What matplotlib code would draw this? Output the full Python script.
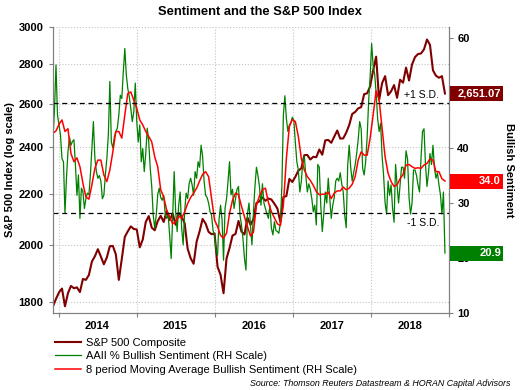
import numpy as np
import pandas as pd
import matplotlib
matplotlib.use('Agg')
import matplotlib.pyplot as plt
import matplotlib.dates as mdates
from matplotlib.patches import Rectangle
from matplotlib.ticker import FixedLocator, FixedFormatter, FormatStrFormatter, NullFormatter, NullLocator
from matplotlib.transforms import blended_transform_factory

plt.rcParams['font.family'] = ['Liberation Sans', 'DejaVu Sans']

# ---- data ----
# S&P 500 and the moving average: every 2 weeks; AAII bullish: weekly
dates = pd.date_range('2013-12-05', periods=132, freq='14D')
dates_w = pd.date_range('2013-12-05', periods=263, freq='7D')

spx = [1785, 1810, 1832, 1845, 1785, 1829, 1854, 1846, 1849, 1833,
       1878, 1875, 1892, 1940, 1959, 1985, 1958, 1930, 1955, 1996,
       1997, 1966, 1875, 1950, 2031, 2052, 2071, 2061, 2059, 1992,
       2021, 2088, 2111, 2066, 2056, 2091, 2112, 2088, 2131, 2096,
       2121, 2077, 2124, 2109, 2083, 1987, 1952, 1932, 2013, 2052,
       2100, 2082, 2050, 2041, 2044, 1921, 1893, 1829, 1951, 1989,
       2036, 2042, 2092, 2051, 2040, 2105, 2077, 2099, 2163, 2170,
       2185, 2172, 2181, 2177, 2160, 2141, 2088, 2187, 2191, 2262,
       2249, 2271, 2297, 2307, 2364, 2365, 2345, 2357, 2355, 2389,
       2366, 2430, 2432, 2419, 2447, 2475, 2438, 2439, 2465, 2500,
       2552, 2562, 2579, 2585, 2648, 2652, 2687, 2767, 2839, 2620,
       2703, 2738, 2643, 2662, 2693, 2630, 2720, 2705, 2782, 2716,
       2798, 2837, 2853, 2856, 2878, 2931, 2902, 2768, 2740, 2730,
       2738, 2651.07]

bullish = [41.8, 47.0, 55.1, 46.0, 44.2, 42.4, 38.1, 37.5, 28.1, 34.5,
           39.3, 42.0, 40.5, 41.2, 41.5, 36.9, 31.4, 35.1, 27.2, 32.7,
           32.1, 29.0, 30.8, 31.8, 31.5, 35.1, 39.9, 44.8, 38.1, 35.7,
           34.5, 35.0, 34.0, 30.8, 31.4, 35.1, 38.1, 42.4, 52.1, 41.1,
           40.0, 42.0, 43.0, 43.6, 46.0, 49.6, 49.0, 53.9, 58.1, 53.3,
           50.8, 49.3, 47.2, 44.8, 46.6, 51.8, 44.8, 41.1, 44.2, 37.5,
           39.9, 35.7, 39.0, 43.6, 41.1, 36.3, 33.0, 27.8, 25.4, 27.8,
           31.5, 32.7, 31.0, 30.5, 31.4, 28.0, 27.2, 27.8, 24.0, 19.9,
           27.5, 35.7, 28.4, 24.8, 29.6, 32.0, 25.4, 22.4, 28.4, 31.8,
           30.8, 33.5, 34.5, 33.3, 31.4, 35.7, 34.5, 37.5, 36.5, 40.5,
           38.5, 34.0, 31.4, 31.0, 30.0, 28.4, 27.8, 25.0, 24.0, 21.5,
           20.5, 27.0, 29.6, 27.0, 19.6, 29.0, 30.8, 33.9, 37.5, 31.5,
           32.5, 29.0, 30.8, 32.5, 33.0, 27.8, 26.0, 23.5, 19.9, 17.8,
           28.0, 30.0, 26.0, 22.4, 28.4, 33.0, 36.5, 35.0, 33.0, 29.6,
           33.5, 30.0, 29.0, 28.0, 27.2, 29.6, 25.4, 24.2, 26.6, 25.0,
           24.8, 24.5, 26.5, 33.0, 46.0, 49.5, 45.4, 43.0, 44.2, 44.6,
           45.6, 45.0, 41.0, 37.5, 36.0, 32.0, 33.9, 37.5, 38.5, 35.0,
           32.0, 33.5, 32.5, 30.8, 28.4, 29.6, 26.0, 37.0, 36.5, 29.5,
           24.8, 28.0, 32.0, 30.0, 34.5, 30.8, 27.2, 29.6, 31.0, 34.0,
           34.5, 34.0, 35.5, 33.5, 32.0, 27.8, 25.5, 36.9, 40.5, 36.5,
           34.0, 35.5, 37.0, 39.0, 41.5, 44.8, 43.5, 36.3, 35.1, 37.5,
           42.0, 48.5, 53.0, 59.0, 55.0, 53.5, 50.0, 45.4, 43.0, 44.5,
           38.5, 35.0, 30.0, 28.0, 34.0, 31.4, 33.3, 29.0, 26.5, 37.0,
           33.3, 30.0, 33.3, 36.5, 36.5, 34.5, 39.5, 38.0, 31.0, 28.0,
           30.0, 36.0, 36.0, 35.0, 33.3, 32.0, 38.1, 43.0, 43.5, 37.0,
           33.0, 35.5, 39.0, 37.0, 40.5, 36.3, 34.5, 35.5, 33.3, 31.5,
           28.0, 32.0, 20.9]

bullish_ma = [42.7, 43.1, 44.3, 45.1, 43.0, 43.5, 39.0, 37.5, 38.2, 36.6,
              33.6, 31.1, 30.7, 33.3, 36.3, 37.8, 37.8, 35.1, 33.9, 36.0,
              39.3, 43.0, 43.0, 41.8, 46.0, 49.9, 50.2, 48.7, 47.2, 45.1,
              44.2, 43.0, 42.1, 41.1, 38.4, 36.6, 32.4, 31.1, 28.7, 27.5,
              26.2, 26.6, 27.6, 27.2, 28.4, 29.9, 31.0, 31.8, 32.7, 34.0,
              35.2, 35.7, 34.8, 30.8, 26.9, 25.7, 24.1, 23.6, 24.5, 28.1,
              30.5, 31.8, 31.5, 29.4, 27.5, 25.7, 24.0, 24.7, 29.6, 31.3,
              32.4, 32.7, 30.1, 28.4, 27.3, 26.2, 25.9, 29.6, 38.1, 43.9,
              45.2, 44.8, 42.1, 38.1, 36.0, 34.8, 34.1, 33.2, 32.1, 31.5,
              31.6, 31.6, 32.0, 30.8, 31.8, 32.2, 32.2, 32.9, 32.4, 32.7,
              33.4, 34.8, 37.8, 39.3, 38.7, 38.7, 41.8, 46.0, 50.4, 48.7,
              43.6, 38.4, 35.4, 33.9, 33.0, 33.3, 34.4, 35.2, 36.9, 37.0,
              36.6, 36.3, 36.4, 36.3, 36.9, 37.2, 38.0, 37.8, 35.7, 35.7,
              34.4, 34.0]

sd_plus = 48.2
sd_minus = 28.2
spx_ticks = [1800, 2000, 2200, 2400, 2600, 2800, 3000]
sent_ticks = [10, 20, 30, 40, 50, 60]
sent_labels = ['10', '20', '30', '40', '', '60']   # 50 sits behind the price box

col_spx = '#800000'
col_bull = '#008000'
col_ma = '#ff0000'
grey = '#808080'

# ---- figure ----
fig = plt.figure(figsize=(5.2, 3.9), dpi=100)
ax = fig.add_axes([53/520, 77/390, 396/520, 286/390])
ax2 = ax.twinx()

l1, = ax.plot(dates, spx, color=col_spx, lw=1.5)
l2, = ax2.plot(dates_w, bullish, color=col_bull, lw=0.9)
l3, = ax2.plot(dates, bullish_ma, color=col_ma, lw=1.1)
ax2.axhline(sd_plus, color='black', ls=(0, (4, 3)), lw=0.9)
ax2.axhline(sd_minus, color='black', ls=(0, (4, 3)), lw=0.9)

# left axis (log)
ax.set_yscale('log')
ax.set_ylim(1763, 3000)
ax.yaxis.set_major_locator(FixedLocator(spx_ticks))
ax.yaxis.set_major_formatter(FormatStrFormatter('%d'))
ax.yaxis.set_minor_locator(NullLocator())
ax.yaxis.set_minor_formatter(NullFormatter())

# right axis
ax2.set_ylim(10, 62)
ax2.yaxis.set_major_locator(FixedLocator(sent_ticks))
ax2.yaxis.set_major_formatter(FixedFormatter(sent_labels))

# x axis: ticks at year starts, labels mid-year
ax.set_xlim(dates[0], pd.Timestamp('2019-01-01'))
ax.xaxis.set_major_locator(mdates.YearLocator())
ax.xaxis.set_major_formatter(NullFormatter())
ax.xaxis.set_minor_locator(mdates.MonthLocator(bymonth=7, bymonthday=1))
ax.xaxis.set_minor_formatter(mdates.DateFormatter('%Y'))
ax.tick_params(axis='x', which='minor', length=0, pad=6)
ax.tick_params(axis='x', which='major', length=3, color=grey)

ax.grid(True, which='major', axis='both', ls=':', color='#c4c4c4', lw=0.8)

ax.tick_params(axis='y', length=3, color=grey, pad=4)
ax2.tick_params(axis='y', length=3, color=grey, pad=3)

for a in (ax, ax2):
    a.spines['top'].set_visible(False)
    for s in ('left', 'right', 'bottom'):
        a.spines[s].set_color(grey)
    for lab in a.get_xticklabels(which='both') + a.get_yticklabels():
        lab.set_fontweight('bold')
        lab.set_fontsize(8)

# S.D. labels
tr = blended_transform_factory(ax2.transAxes, ax2.transData)
ax2.text(0.975, sd_plus + 0.5, '+1 S.D.', transform=tr, ha='right', va='bottom', fontsize=7.5)
ax2.text(0.975, sd_minus - 0.9, '-1 S.D.', transform=tr, ha='right', va='top', fontsize=7.5)

# last value boxes on the right
def value_box(axis, value, text, color):
    y = fig.transFigure.inverted().transform(axis.transData.transform((0, value)))[1]
    fig.add_artist(Rectangle((450/520, y - 7.5/390), 53/520, 15/390,
                             transform=fig.transFigure, color=color, lw=0))
    fig.text(501/520, y, text, color='white', ha='right', va='center',
             fontsize=8, fontweight='bold')

value_box(ax, spx[-1], f'{spx[-1]:,.2f}', col_spx)
value_box(ax2, bullish_ma[-1], f'{bullish_ma[-1]:.1f}', col_ma)
value_box(ax2, bullish[-1], f'{bullish[-1]:.1f}', col_bull)

# titles / labels
fig.text(0.5, 1 - 12/390, 'Sentiment and the S&P 500 Index', ha='center', va='center',
         fontsize=9.3, fontweight='bold')
fig.text(10/520, 1 - 170/390, 'S&P 500 Index (log scale)', rotation=90,
         ha='center', va='center', fontsize=8, fontweight='bold')
fig.text(509/520, 1 - 170/390, 'Bullish Sentiment', rotation=270,
         ha='center', va='center', fontsize=8, fontweight='bold')

fig.legend([l1, l2, l3],
           ['S&P 500 Composite', 'AAII % Bullish Sentiment (RH Scale)',
            '8 period Moving Average Bullish Sentiment (RH Scale)'],
           loc='upper left', bbox_to_anchor=(55/520, 1 - 338/390), frameon=False,
           fontsize=8, handlelength=2.3, handletextpad=0.5, labelspacing=0.3,
           borderpad=0, borderaxespad=0)

fig.text(510/520, 1 - 384/390, 'Source: Thomson Reuters Datastream & HORAN Capital Advisors',
         ha='right', va='center', fontsize=6.4, style='italic')

fig.savefig('out.png', dpi=100)
